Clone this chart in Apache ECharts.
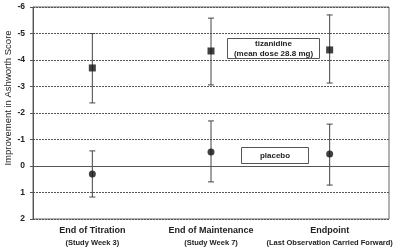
<!DOCTYPE html>
<html>
<head>
<meta charset="utf-8">
<script src="https://cdn.jsdelivr.net/npm/echarts@6/dist/echarts.min.js"></script>
<style>
  html, body { margin: 0; padding: 0; background: #fff; }
  #chart { width: 400px; height: 249px; }
</style>
</head>
<body>
<div id="chart"></div>
<script>
// visits
const visits = ['End of Titration', 'End of Maintenance', 'Endpoint']
const visitNotes = ['(Study Week 3)', '(Study Week 7)', '(Last Observation Carried Forward)']

// tizanidine: mean, upper, lower (negative = improvement)
const tizMean = [-3.70, -4.34, -4.38]
const tizHigh = [-5.00, -5.58, -5.70]
const tizLow = [-2.38, -3.06, -3.13]

// placebo
const plaMean = [0.30, -0.53, -0.45]
const plaHigh = [-0.57, -1.70, -1.58]
const plaLow = [1.17, 0.60, 0.72]

const yTicks = [-6, -5, -4, -3, -2, -1, 0, 1, 2]

const lineCol = '#555'
const textCol = '#222'

function errRows(hi, lo) {
	return visits.map(function(v, i) { return [i, hi[i], lo[i]] })
}

function renderErr(params, api) {
	const x = api.value(0)
	const p1 = api.coord([x, api.value(1)])
	const p2 = api.coord([x, api.value(2)])
	const w = 3
	const st = { stroke: '#444', lineWidth: 1 }
	return {
		type: 'group',
		children: [
			{ type: 'line', shape: { x1: p1[0], y1: p1[1], x2: p2[0], y2: p2[1] }, style: st },
			{ type: 'line', shape: { x1: p1[0] - w, y1: p1[1], x2: p1[0] + w, y2: p1[1] }, style: st },
			{ type: 'line', shape: { x1: p2[0] - w, y1: p2[1], x2: p2[0] + w, y2: p2[1] }, style: st }
		]
	}
}

const chart = echarts.init(document.getElementById('chart'))

const option = {
	animation: false,
	grid: {
		left: 33, right: 11, top: 7, bottom: 30,
		outerBoundsMode: 'none',
		containLabel: false,
		show: true, borderColor: '#666', borderWidth: 1
	},
	xAxis: {
		type: 'category',
		data: visits,
		axisLine: { lineStyle: { color: lineCol } },
		axisTick: { alignWithLabel: true, length: 3, lineStyle: { color: lineCol } },
		axisLabel: {
			interval: 0,
			margin: 6,
			formatter: function(v, i) { return '{a|' + v + '}\n{b|' + visitNotes[i] + '}' },
			rich: {
				a: { fontFamily: 'Arial, Liberation Sans', fontSize: 9, fontWeight: 'bold', color: textCol, lineHeight: 12 },
				b: { fontFamily: 'Arial, Liberation Sans', fontSize: 7.5, fontWeight: 'bold', color: textCol, lineHeight: 11 }
			}
		}
	},
	yAxis: {
		type: 'value',
		inverse: true,
		min: yTicks[0],
		max: yTicks[yTicks.length - 1],
		interval: 1,
		name: 'Improvement in Ashworth Score',
		nameLocation: 'middle',
		nameGap: 20,
		nameMoveOverlap: false,
		nameTextStyle: { fontFamily: 'Arial, Liberation Sans', fontSize: 9.5, color: textCol, padding: [0, 0, 0, 30] },
		axisLine: { show: true, lineStyle: { color: lineCol } },
		axisTick: { show: true, length: 3, lineStyle: { color: lineCol } },
		axisLabel: { fontFamily: 'Arial, Liberation Sans', fontSize: 8.5, fontWeight: 'bold', color: textCol, margin: 8 },
		splitLine: { lineStyle: { color: '#555', type: [2, 1], width: 1 } }
	},
	series: [
		{
			name: 'tizanidine err',
			type: 'custom',
			renderItem: renderErr,
			data: errRows(tizHigh, tizLow),
			z: 3
		},
		{
			name: 'placebo err',
			type: 'custom',
			renderItem: renderErr,
			data: errRows(plaHigh, plaLow),
			z: 3
		},
		{
			name: 'tizanidine',
			type: 'scatter',
			symbol: 'rect',
			symbolSize: 7,
			itemStyle: { color: '#111' },
			data: tizMean,
			z: 4,
			markLine: {
				silent: true,
				symbol: 'none',
				label: { show: false },
				lineStyle: { color: '#555', type: 'solid', width: 1 },
				data: [{ yAxis: 0 }]
			}
		},
		{
			name: 'placebo',
			type: 'scatter',
			symbol: 'circle',
			symbolSize: 7,
			itemStyle: { color: '#111' },
			data: plaMean,
			z: 4
		}
	],
	graphic: [
		{
			type: 'group', left: 227, top: 38,
			children: [
				{ type: 'rect', shape: { x: 0, y: 0, width: 92, height: 20 }, style: { fill: '#fff', stroke: '#555', lineWidth: 1 } },
				{ type: 'text', x: 46, y: 10, style: { text: 'tizanidine\n(mean dose 28.8 mg)', fill: textCol, font: 'bold 8px Arial, Liberation Sans', align: 'center', verticalAlign: 'middle', lineHeight: 10 } }
			]
		},
		{
			type: 'group', left: 241, top: 147,
			children: [
				{ type: 'rect', shape: { x: 0, y: 0, width: 67, height: 16 }, style: { fill: '#fff', stroke: '#555', lineWidth: 1 } },
				{ type: 'text', x: 33.5, y: 8, style: { text: 'placebo', fill: textCol, font: 'bold 8px Arial, Liberation Sans', align: 'center', verticalAlign: 'middle' } }
			]
		}
	]
}

chart.setOption(option)
</script>
</body>
</html>
